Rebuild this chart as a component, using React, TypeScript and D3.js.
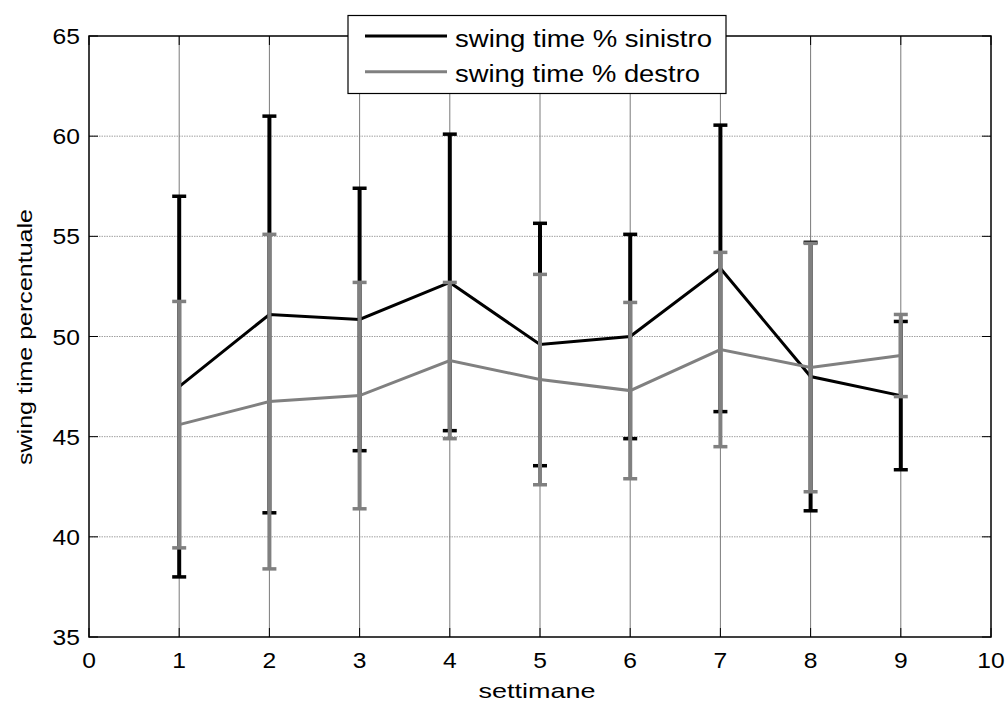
import { useRef, useEffect } from "react";
import * as d3 from "d3";

// weeks and values
const weeks = [1, 2, 3, 4, 5, 6, 7, 8, 9];
const sinistroMean = [47.5, 51.1, 50.85, 52.7, 49.6, 50.0, 53.4, 48.0, 47.05];
const sinistroErr = [9.5, 9.9, 6.55, 7.4, 6.05, 5.1, 7.15, 6.7, 3.7];
const destroMean = [45.6, 46.75, 47.05, 48.8, 47.85, 47.3, 49.35, 48.45, 49.05];
const destroErr = [6.15, 8.35, 5.65, 3.9, 5.25, 4.4, 4.85, 6.2, 2.05];
const xTicks = [0, 1, 2, 3, 4, 5, 6, 7, 8, 9, 10];
const yTicks = [35, 40, 45, 50, 55, 60, 65];
const seriesNames = ["swing time % sinistro", "swing time % destro"];

export default function App() {
  const svgRef = useRef<SVGSVGElement>(null);

  useEffect(() => {
    const width = 1006;
    const height = 702;
    const M = { left: 89, right: 991, top: 36, bottom: 637 };
    const font = "Liberation Sans, Arial, sans-serif";
    const sx = 1.12; // reference text is a bit wider than Liberation Sans

    const svg = d3.select(svgRef.current).attr("width", width).attr("height", height);
    svg.selectAll("*").remove();

    const x = d3.scaleLinear().domain([0, 10]).range([M.left, M.right]);
    const y = d3.scaleLinear().domain([35, 65]).range([M.bottom, M.top]);

    // grid
    svg.append("g")
      .selectAll("line")
      .data(yTicks.slice(1, -1))
      .join("line")
      .attr("x1", M.left).attr("x2", M.right)
      .attr("y1", d => y(d)).attr("y2", d => y(d))
      .attr("stroke", "#a0a0a0").attr("stroke-width", 1)
      .attr("stroke-dasharray", "1.5,1");
    svg.append("g")
      .selectAll("line")
      .data(xTicks.slice(1, -1))
      .join("line")
      .attr("x1", d => x(d)).attr("x2", d => x(d))
      .attr("y1", M.top).attr("y2", M.bottom)
      .attr("stroke", "#7a7a7a").attr("stroke-width", 1);

    // series
    const drawSeries = (mean: number[], err: number[], color: string) => {
      const g = svg.append("g");
      g.selectAll("line.bar")
        .data(weeks)
        .join("line")
        .attr("class", "bar")
        .attr("x1", d => x(d)).attr("x2", d => x(d))
        .attr("y1", (d, i) => y(mean[i] + err[i]))
        .attr("y2", (d, i) => y(mean[i] - err[i]))
        .attr("stroke", color).attr("stroke-width", 4);
      const caps = weeks.flatMap((d, i) => [
        { w: d, v: mean[i] + err[i] },
        { w: d, v: mean[i] - err[i] },
      ]);
      g.selectAll("line.cap")
        .data(caps)
        .join("line")
        .attr("class", "cap")
        .attr("x1", d => x(d.w) - 7).attr("x2", d => x(d.w) + 7)
        .attr("y1", d => y(d.v)).attr("y2", d => y(d.v))
        .attr("stroke", color).attr("stroke-width", 3.5);
      const line = d3.line<number>().x(d => x(d)).y((d, i) => y(mean[i]));
      g.append("path")
        .datum(weeks)
        .attr("d", line)
        .attr("fill", "none")
        .attr("stroke", color).attr("stroke-width", 3);
    };
    drawSeries(sinistroMean, sinistroErr, "#000000");
    drawSeries(destroMean, destroErr, "#808080");

    // axes box
    svg.append("rect")
      .attr("x", M.left).attr("y", M.top)
      .attr("width", M.right - M.left).attr("height", M.bottom - M.top)
      .attr("fill", "none").attr("stroke", "#000").attr("stroke-width", 1.5);

    // ticks inward
    const tk = 9;
    const tg = svg.append("g").attr("stroke", "#000").attr("stroke-width", 1);
    xTicks.forEach(t => {
      tg.append("line").attr("x1", x(t)).attr("x2", x(t)).attr("y1", M.bottom).attr("y2", M.bottom - tk);
      tg.append("line").attr("x1", x(t)).attr("x2", x(t)).attr("y1", M.top).attr("y2", M.top + tk);
    });
    yTicks.forEach(t => {
      tg.append("line").attr("x1", M.left).attr("x2", M.left + tk).attr("y1", y(t)).attr("y2", y(t));
      tg.append("line").attr("x1", M.right).attr("x2", M.right - tk).attr("y1", y(t)).attr("y2", y(t));
    });

    // tick labels
    svg.append("g")
      .selectAll("text")
      .data(xTicks)
      .join("text")
      .attr("transform", d => `translate(${x(d)},668) scale(${sx},1)`)
      .attr("text-anchor", "middle")
      .style("font-family", font).style("font-size", "22px")
      .text(d => d);
    svg.append("g")
      .selectAll("text")
      .data(yTicks)
      .join("text")
      .attr("transform", d => `translate(80,${y(d) + 8}) scale(${sx},1)`)
      .attr("text-anchor", "end")
      .style("font-family", font).style("font-size", "22px")
      .text(d => d);

    // axis labels
    svg.append("text")
      .attr("x", 537).attr("y", 698)
      .attr("text-anchor", "middle")
      .attr("textLength", 117).attr("lengthAdjust", "spacingAndGlyphs")
      .style("font-family", font).style("font-size", "21px")
      .text("settimane");
    svg.append("text")
      .attr("transform", `translate(32,337) rotate(-90)`)
      .attr("text-anchor", "middle")
      .attr("textLength", 256).attr("lengthAdjust", "spacingAndGlyphs")
      .style("font-family", font).style("font-size", "21px")
      .text("swing time percentuale");

    // legend
    const lg = svg.append("g");
    lg.append("rect")
      .attr("x", 348).attr("y", 15.5).attr("width", 378).attr("height", 78)
      .attr("fill", "#fff").attr("stroke", "#000").attr("stroke-width", 1.2);
    const colors = ["#000000", "#808080"];
    const lens = [257, 245];
    seriesNames.forEach((name, i) => {
      const cy = 36 + i * 35.7;
      lg.append("line")
        .attr("x1", 365).attr("x2", 447).attr("y1", cy).attr("y2", cy)
        .attr("stroke", colors[i]).attr("stroke-width", 3);
      lg.append("text")
        .attr("x", 455).attr("y", cy + 10.5)
        .attr("textLength", lens[i]).attr("lengthAdjust", "spacingAndGlyphs")
        .style("font-family", font).style("font-size", "23px")
        .text(name);
    });
  }, []);

  return (
    <div>
      <style>{"body{margin:0}"}</style>
      <svg ref={svgRef}></svg>
    </div>
  );
}
